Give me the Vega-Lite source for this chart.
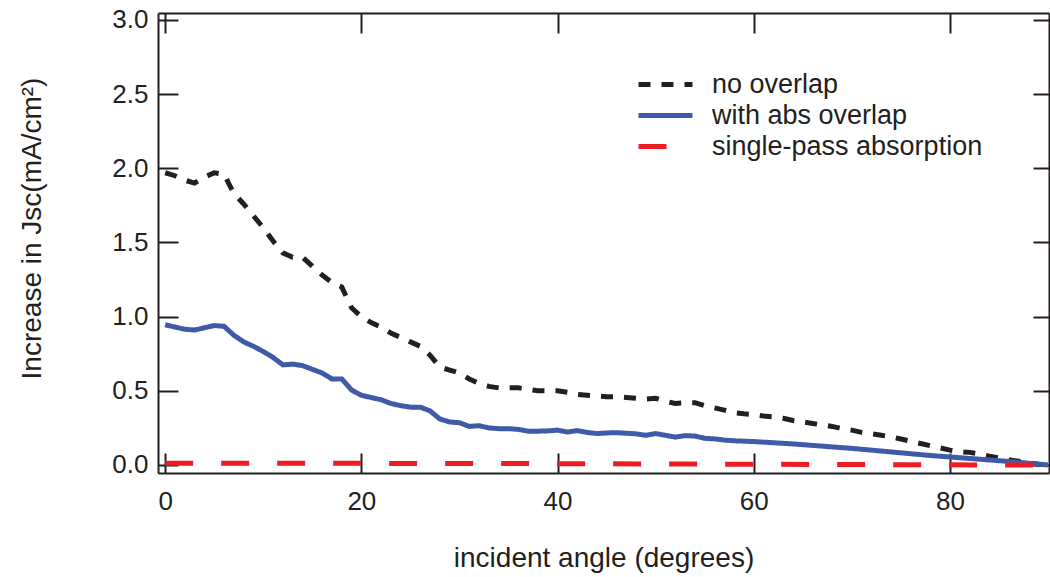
{
  "$schema": "https://vega.github.io/schema/vega-lite/v6.json",
  "width": 891,
  "height": 460,
  "autosize": {"type": "none"},
  "padding": {"left": 158, "top": 13, "right": 1, "bottom": 104},
  "background": "white",
  "config": {
    "view": {"stroke": null},
    "font": "Liberation Sans",
    "axis": {
      "domainColor": "#231f20", "domainWidth": 2,
      "tickColor": "#231f20", "tickWidth": 2, "tickSize": -20,
      "labelFont": "Liberation Sans", "labelFontSize": 26, "labelColor": "#231f20",
      "titleFont": "Liberation Sans", "titleFontSize": 28, "titleColor": "#231f20", "titleFontWeight": "normal",
      "grid": false, "labelFlush": false, "labelOverlap": false
    },
    "legend": {
      "orient": "none", "legendX": 494, "legendY": 58, "padding": 0,
      "symbolType": "M-3.375,0H3.375", "symbolSize": 256, "symbolStrokeWidth": 5,
      "labelFont": "Liberation Sans", "labelFontSize": 27, "labelColor": "#231f20",
      "labelOffset": 33, "rowPadding": 3, "labelLimit": 0, "title": null
    }
  },
  "data": {"values": [
    {"angle":0,"value":1.97,"series":"no overlap"},
    {"angle":1,"value":1.95,"series":"no overlap"},
    {"angle":2,"value":1.92,"series":"no overlap"},
    {"angle":3,"value":1.90,"series":"no overlap"},
    {"angle":4,"value":1.94,"series":"no overlap"},
    {"angle":5,"value":1.97,"series":"no overlap"},
    {"angle":6,"value":1.96,"series":"no overlap"},
    {"angle":7,"value":1.83,"series":"no overlap"},
    {"angle":8,"value":1.76,"series":"no overlap"},
    {"angle":9,"value":1.68,"series":"no overlap"},
    {"angle":10,"value":1.60,"series":"no overlap"},
    {"angle":11,"value":1.51,"series":"no overlap"},
    {"angle":12,"value":1.43,"series":"no overlap"},
    {"angle":13,"value":1.40,"series":"no overlap"},
    {"angle":14,"value":1.40,"series":"no overlap"},
    {"angle":15,"value":1.34,"series":"no overlap"},
    {"angle":16,"value":1.28,"series":"no overlap"},
    {"angle":17,"value":1.23,"series":"no overlap"},
    {"angle":18,"value":1.20,"series":"no overlap"},
    {"angle":19,"value":1.06,"series":"no overlap"},
    {"angle":20,"value":1.00,"series":"no overlap"},
    {"angle":21,"value":0.96,"series":"no overlap"},
    {"angle":22,"value":0.93,"series":"no overlap"},
    {"angle":23,"value":0.89,"series":"no overlap"},
    {"angle":24,"value":0.86,"series":"no overlap"},
    {"angle":25,"value":0.83,"series":"no overlap"},
    {"angle":26,"value":0.80,"series":"no overlap"},
    {"angle":27,"value":0.74,"series":"no overlap"},
    {"angle":28,"value":0.66,"series":"no overlap"},
    {"angle":29,"value":0.64,"series":"no overlap"},
    {"angle":30,"value":0.62,"series":"no overlap"},
    {"angle":31,"value":0.58,"series":"no overlap"},
    {"angle":32,"value":0.55,"series":"no overlap"},
    {"angle":33,"value":0.53,"series":"no overlap"},
    {"angle":34,"value":0.52,"series":"no overlap"},
    {"angle":35,"value":0.52,"series":"no overlap"},
    {"angle":36,"value":0.52,"series":"no overlap"},
    {"angle":37,"value":0.51,"series":"no overlap"},
    {"angle":38,"value":0.50,"series":"no overlap"},
    {"angle":39,"value":0.50,"series":"no overlap"},
    {"angle":40,"value":0.50,"series":"no overlap"},
    {"angle":41,"value":0.49,"series":"no overlap"},
    {"angle":42,"value":0.475,"series":"no overlap"},
    {"angle":43,"value":0.47,"series":"no overlap"},
    {"angle":44,"value":0.465,"series":"no overlap"},
    {"angle":45,"value":0.46,"series":"no overlap"},
    {"angle":46,"value":0.46,"series":"no overlap"},
    {"angle":47,"value":0.455,"series":"no overlap"},
    {"angle":48,"value":0.45,"series":"no overlap"},
    {"angle":49,"value":0.445,"series":"no overlap"},
    {"angle":50,"value":0.45,"series":"no overlap"},
    {"angle":51,"value":0.43,"series":"no overlap"},
    {"angle":52,"value":0.415,"series":"no overlap"},
    {"angle":53,"value":0.42,"series":"no overlap"},
    {"angle":54,"value":0.42,"series":"no overlap"},
    {"angle":55,"value":0.40,"series":"no overlap"},
    {"angle":56,"value":0.385,"series":"no overlap"},
    {"angle":57,"value":0.37,"series":"no overlap"},
    {"angle":58,"value":0.352,"series":"no overlap"},
    {"angle":59,"value":0.345,"series":"no overlap"},
    {"angle":60,"value":0.34,"series":"no overlap"},
    {"angle":61,"value":0.33,"series":"no overlap"},
    {"angle":62,"value":0.325,"series":"no overlap"},
    {"angle":63,"value":0.315,"series":"no overlap"},
    {"angle":64,"value":0.30,"series":"no overlap"},
    {"angle":65,"value":0.29,"series":"no overlap"},
    {"angle":66,"value":0.28,"series":"no overlap"},
    {"angle":67,"value":0.27,"series":"no overlap"},
    {"angle":68,"value":0.26,"series":"no overlap"},
    {"angle":69,"value":0.245,"series":"no overlap"},
    {"angle":70,"value":0.235,"series":"no overlap"},
    {"angle":71,"value":0.22,"series":"no overlap"},
    {"angle":72,"value":0.21,"series":"no overlap"},
    {"angle":73,"value":0.20,"series":"no overlap"},
    {"angle":74,"value":0.19,"series":"no overlap"},
    {"angle":75,"value":0.175,"series":"no overlap"},
    {"angle":76,"value":0.16,"series":"no overlap"},
    {"angle":77,"value":0.145,"series":"no overlap"},
    {"angle":78,"value":0.13,"series":"no overlap"},
    {"angle":79,"value":0.115,"series":"no overlap"},
    {"angle":80,"value":0.10,"series":"no overlap"},
    {"angle":81,"value":0.09,"series":"no overlap"},
    {"angle":82,"value":0.085,"series":"no overlap"},
    {"angle":83,"value":0.075,"series":"no overlap"},
    {"angle":84,"value":0.06,"series":"no overlap"},
    {"angle":85,"value":0.047,"series":"no overlap"},
    {"angle":86,"value":0.035,"series":"no overlap"},
    {"angle":87,"value":0.025,"series":"no overlap"},
    {"angle":88,"value":0.015,"series":"no overlap"},
    {"angle":89,"value":0.005,"series":"no overlap"},
    {"angle":90,"value":0.0,"series":"no overlap"},
    {"angle":0,"value":0.945,"series":"with abs overlap"},
    {"angle":1,"value":0.93,"series":"with abs overlap"},
    {"angle":2,"value":0.915,"series":"with abs overlap"},
    {"angle":3,"value":0.91,"series":"with abs overlap"},
    {"angle":4,"value":0.925,"series":"with abs overlap"},
    {"angle":5,"value":0.94,"series":"with abs overlap"},
    {"angle":6,"value":0.935,"series":"with abs overlap"},
    {"angle":7,"value":0.875,"series":"with abs overlap"},
    {"angle":8,"value":0.83,"series":"with abs overlap"},
    {"angle":9,"value":0.80,"series":"with abs overlap"},
    {"angle":10,"value":0.765,"series":"with abs overlap"},
    {"angle":11,"value":0.725,"series":"with abs overlap"},
    {"angle":12,"value":0.675,"series":"with abs overlap"},
    {"angle":13,"value":0.68,"series":"with abs overlap"},
    {"angle":14,"value":0.67,"series":"with abs overlap"},
    {"angle":15,"value":0.645,"series":"with abs overlap"},
    {"angle":16,"value":0.62,"series":"with abs overlap"},
    {"angle":17,"value":0.58,"series":"with abs overlap"},
    {"angle":18,"value":0.58,"series":"with abs overlap"},
    {"angle":19,"value":0.505,"series":"with abs overlap"},
    {"angle":20,"value":0.47,"series":"with abs overlap"},
    {"angle":21,"value":0.455,"series":"with abs overlap"},
    {"angle":22,"value":0.44,"series":"with abs overlap"},
    {"angle":23,"value":0.415,"series":"with abs overlap"},
    {"angle":24,"value":0.40,"series":"with abs overlap"},
    {"angle":25,"value":0.39,"series":"with abs overlap"},
    {"angle":26,"value":0.39,"series":"with abs overlap"},
    {"angle":27,"value":0.365,"series":"with abs overlap"},
    {"angle":28,"value":0.31,"series":"with abs overlap"},
    {"angle":29,"value":0.29,"series":"with abs overlap"},
    {"angle":30,"value":0.285,"series":"with abs overlap"},
    {"angle":31,"value":0.26,"series":"with abs overlap"},
    {"angle":32,"value":0.265,"series":"with abs overlap"},
    {"angle":33,"value":0.25,"series":"with abs overlap"},
    {"angle":34,"value":0.245,"series":"with abs overlap"},
    {"angle":35,"value":0.245,"series":"with abs overlap"},
    {"angle":36,"value":0.24,"series":"with abs overlap"},
    {"angle":37,"value":0.228,"series":"with abs overlap"},
    {"angle":38,"value":0.228,"series":"with abs overlap"},
    {"angle":39,"value":0.23,"series":"with abs overlap"},
    {"angle":40,"value":0.235,"series":"with abs overlap"},
    {"angle":41,"value":0.222,"series":"with abs overlap"},
    {"angle":42,"value":0.232,"series":"with abs overlap"},
    {"angle":43,"value":0.22,"series":"with abs overlap"},
    {"angle":44,"value":0.212,"series":"with abs overlap"},
    {"angle":45,"value":0.216,"series":"with abs overlap"},
    {"angle":46,"value":0.218,"series":"with abs overlap"},
    {"angle":47,"value":0.214,"series":"with abs overlap"},
    {"angle":48,"value":0.21,"series":"with abs overlap"},
    {"angle":49,"value":0.20,"series":"with abs overlap"},
    {"angle":50,"value":0.212,"series":"with abs overlap"},
    {"angle":51,"value":0.20,"series":"with abs overlap"},
    {"angle":52,"value":0.188,"series":"with abs overlap"},
    {"angle":53,"value":0.198,"series":"with abs overlap"},
    {"angle":54,"value":0.195,"series":"with abs overlap"},
    {"angle":55,"value":0.18,"series":"with abs overlap"},
    {"angle":56,"value":0.176,"series":"with abs overlap"},
    {"angle":57,"value":0.168,"series":"with abs overlap"},
    {"angle":58,"value":0.163,"series":"with abs overlap"},
    {"angle":60,"value":0.158,"series":"with abs overlap"},
    {"angle":62,"value":0.150,"series":"with abs overlap"},
    {"angle":64,"value":0.142,"series":"with abs overlap"},
    {"angle":66,"value":0.132,"series":"with abs overlap"},
    {"angle":68,"value":0.122,"series":"with abs overlap"},
    {"angle":70,"value":0.112,"series":"with abs overlap"},
    {"angle":72,"value":0.100,"series":"with abs overlap"},
    {"angle":74,"value":0.088,"series":"with abs overlap"},
    {"angle":76,"value":0.076,"series":"with abs overlap"},
    {"angle":78,"value":0.064,"series":"with abs overlap"},
    {"angle":80,"value":0.054,"series":"with abs overlap"},
    {"angle":82,"value":0.044,"series":"with abs overlap"},
    {"angle":84,"value":0.034,"series":"with abs overlap"},
    {"angle":86,"value":0.024,"series":"with abs overlap"},
    {"angle":88,"value":0.012,"series":"with abs overlap"},
    {"angle":90,"value":0.0,"series":"with abs overlap"},
    {"angle":0,"value":0.012,"series":"single-pass absorption"},
    {"angle":10,"value":0.012,"series":"single-pass absorption"},
    {"angle":20,"value":0.011,"series":"single-pass absorption"},
    {"angle":30,"value":0.01,"series":"single-pass absorption"},
    {"angle":40,"value":0.009,"series":"single-pass absorption"},
    {"angle":50,"value":0.007,"series":"single-pass absorption"},
    {"angle":60,"value":0.005,"series":"single-pass absorption"},
    {"angle":70,"value":0.003,"series":"single-pass absorption"},
    {"angle":80,"value":0.001,"series":"single-pass absorption"},
    {"angle":90,"value":0.0,"series":"single-pass absorption"}
  ]},
  "encoding": {
    "x": {"field": "angle", "type": "quantitative", "scale": {"domain": [-0.73, 90.1], "nice": false, "zero": false}},
    "y": {"field": "value", "type": "quantitative", "scale": {"domain": [-0.054, 3.047], "nice": false, "zero": false}},
    "color": {"field": "series", "type": "nominal",
      "scale": {"domain": ["no overlap", "with abs overlap", "single-pass absorption"], "range": ["#231f20", "#3f5aa9", "#ed1c24"]}},
    "strokeDash": {"field": "series", "type": "nominal",
      "scale": {"domain": ["no overlap", "with abs overlap", "single-pass absorption"], "range": [[12, 11], [1, 0], [28, 28]]}}
  },
  "layer": [
    {
      "transform": [{"filter": "datum.series === 'no overlap'"}],
      "mark": {"type": "line", "strokeWidth": 5},
      "encoding": {
        "x": {"field": "angle", "type": "quantitative", "axis": {"orient": "bottom", "values": [0, 20, 40, 60, 80], "title": "incident angle (degrees)", "labelPadding": 35, "titlePadding": 30}},
        "y": {"field": "value", "type": "quantitative", "axis": {"orient": "left", "values": [0, 0.5, 1, 1.5, 2, 2.5, 3], "format": ".1f", "title": "Increase in Jsc(mA/cm²)", "labelPadding": 30, "titlePadding": 65, "titleY": 215}}
      }
    },
    {
      "transform": [{"filter": "datum.series === 'with abs overlap'"}],
      "mark": {"type": "line", "strokeWidth": 5},
      "encoding": {
        "x": {"field": "angle", "type": "quantitative", "axis": {"orient": "top", "values": [0, 20, 40, 60, 80], "labels": false, "title": null}},
        "y": {"field": "value", "type": "quantitative", "axis": {"orient": "right", "values": [0, 0.5, 1, 1.5, 2, 2.5, 3], "labels": false, "title": null, "tickSize": -16}}
      }
    },
    {
      "transform": [{"filter": "datum.series === 'single-pass absorption'"}],
      "mark": {"type": "line", "strokeWidth": 5},
      "encoding": {
        "x": {"field": "angle", "type": "quantitative", "axis": null},
        "y": {"field": "value", "type": "quantitative", "axis": null}
      }
    }
  ],
  "resolve": {"axis": {"x": "independent", "y": "independent"}}
}
